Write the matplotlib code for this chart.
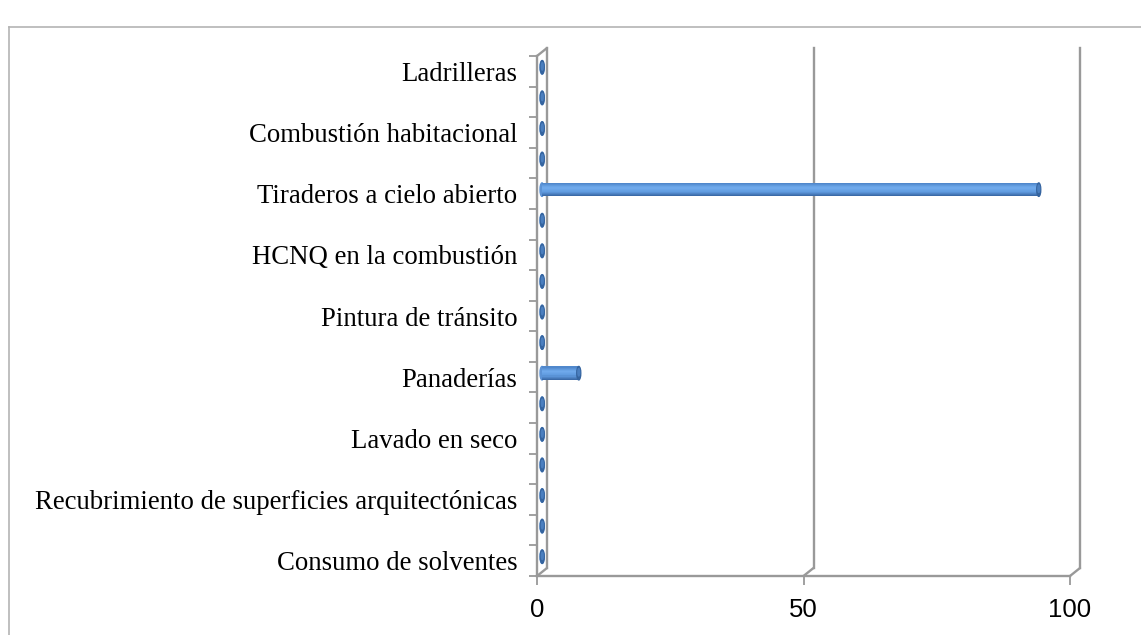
import numpy as np
import matplotlib
matplotlib.use("Agg")
import matplotlib.pyplot as plt
import matplotlib.transforms as mtransforms
from matplotlib.patches import Ellipse, ConnectionPatch
from matplotlib.lines import Line2D
from matplotlib.colors import to_rgb

# data (bottom to top, 17 categories, only every other one is labelled)
etiquetas = ["Consumo de solventes",
             "Recubrimiento de superficies arquitectónicas",
             "Lavado en seco",
             "Panaderías",
             "Pintura de tránsito",
             "HCNQ en la combustión",
             "Tiraderos a cielo abierto",
             "Combustión habitacional",
             "Ladrilleras"]
valores = [0.05, 0.05, 0.05, 0.05, 0.05, 0.05, 6.9, 0.05, 0.05,
           0.05, 0.05, 0.05, 93.2, 0.05, 0.05, 0.05, 0.05]
xticks = [0, 50, 100]

W, H = 1141, 635
fig = plt.figure(figsize=(W / 100, H / 100), dpi=100)
ax = fig.add_axes([537 / W, (H - 576) / H, (1070 - 537) / W, (576 - 56) / H])
n = len(valores)
ax.set_xlim(0, 100)
ax.set_ylim(0, n)
for s in ax.spines.values():
    s.set_visible(False)

gris = "#999999"
# depth offsets (pseudo 3d)
back = ax.transData + mtransforms.ScaledTranslation(0.1, 0.08, fig.dpi_scale_trans)
mid = ax.transData + mtransforms.ScaledTranslation(0.05, 0.04, fig.dpi_scale_trans)

# back wall and gridlines
ax.plot([0, 0], [0, n], color=gris, lw=1.7, transform=back, zorder=1, clip_on=False)
for xv in xticks[1:]:
    ax.plot([xv, xv], [0, n], color=gris, lw=1.7, transform=back, zorder=1, clip_on=False)
    ax.add_artist(ConnectionPatch((xv, 0), (xv, 0), coordsA=ax.transData,
                                  coordsB=back, color=gris, lw=1.7, zorder=1))
for yv in [0, n]:
    ax.add_artist(ConnectionPatch((0, yv), (0, yv), coordsA=ax.transData,
                                  coordsB=back, color=gris, lw=1.7, zorder=1))

# cylinder bars
y = np.arange(n) + 0.5
h = 0.44
stops = [to_rgb("#5088cc"), to_rgb("#70aaec"), to_rgb("#619ce0"), to_rgb("#3b6aa8")]
nstrip = 12
for k in range(nstrip):
    t = k / (nstrip - 1)
    seg = min(int(t * (len(stops) - 1)), len(stops) - 2)
    f = t * (len(stops) - 1) - seg
    c = tuple((1 - f) * a + f * b for a, b in zip(stops[seg], stops[seg + 1]))
    dy = h / 2 - (k + 0.5) * h / nstrip
    ax.barh(y + dy, valores, height=h / nstrip, left=0, color=c,
            transform=mid, zorder=3, linewidth=0, clip_on=False)
cap_w = 0.75
for yi, v in zip(y, valores):
    ax.add_patch(Ellipse((0, yi), cap_w, h, color="#5c93d6", transform=mid,
                         zorder=2, clip_on=False))
    ax.add_patch(Ellipse((v, yi), cap_w, h, color="#35649f", transform=mid,
                         zorder=4, clip_on=False))
    ax.add_patch(Ellipse((v, yi + 0.03), cap_w * 0.45, h * 0.55, color="#4b7fbf",
                         transform=mid, zorder=4, clip_on=False))

# front axis lines
ax.plot([0, 0], [0, n], color=gris, lw=1.7, zorder=5, clip_on=False)
ax.plot([0, 100], [0, 0], color=gris, lw=1.7, zorder=5, clip_on=False)

ax.set_xticks(xticks)
ax.set_xticklabels([str(v) for v in xticks], fontfamily="Liberation Sans", fontsize=18.5)
ax.tick_params(axis="x", length=6.5, width=1.3, color=gris, pad=9)
ax.set_yticks(np.arange(n + 1))
ax.set_yticklabels([])
ax.tick_params(axis="y", which="major", length=5.5, width=1.3, color=gris)
ax.set_yticks(y[::2], minor=True)
ax.set_yticklabels(etiquetas, minor=True, fontfamily="Liberation Serif", fontsize=19.3)
ax.tick_params(axis="y", which="minor", length=0, pad=14)
ax.grid(False)

# chart border
borde = "#b4b4b4"
fig.add_artist(Line2D([9 / W, 9 / W], [0, (H - 27) / H], color=borde, lw=1.2))
fig.add_artist(Line2D([9 / W, 1], [(H - 27) / H, (H - 27) / H], color=borde, lw=1.2))

fig.savefig("out.png", dpi=100)
